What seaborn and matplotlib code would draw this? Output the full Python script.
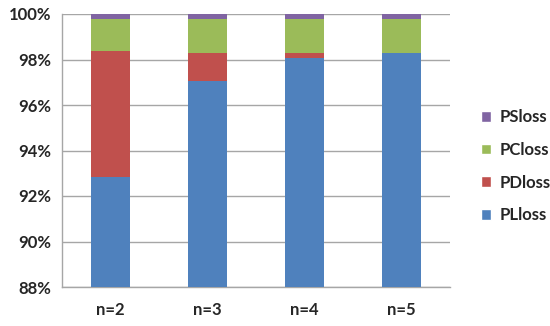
import numpy as np
import pandas as pd
import matplotlib
matplotlib.use('Agg')
import matplotlib.pyplot as plt
import seaborn as sns
from matplotlib.patches import Patch
from matplotlib.ticker import FuncFormatter

# data (percent of total)
cases = ['n=2', 'n=3', 'n=4', 'n=5']
pl_loss = [92.84, 97.05, 98.07, 98.29]
pd_loss = [5.53, 1.25, 0.20, 0.0]
pc_loss = [1.41, 1.48, 1.51, 1.49]
ps_loss = [0.22, 0.22, 0.22, 0.22]

series = ['PLloss', 'PDloss', 'PCloss', 'PSloss']
colors = ['#4F81BD', '#C0504D', '#9BBB59', '#8064A2']

sns.set_style('white')
plt.rcParams['font.family'] = ['Lato', 'DejaVu Sans']
plt.rcParams['font.weight'] = 'bold'

df = pd.DataFrame({'case': cases, 'PLloss': pl_loss, 'PDloss': pd_loss,
                   'PCloss': pc_loss, 'PSloss': ps_loss})
cum = df[series].cumsum(axis=1)

fig = plt.figure(figsize=(5.5, 3.26), dpi=100)
ax = fig.add_axes([62 / 550, 39 / 326, 388 / 550, 273 / 326])

# draw the tallest cumulative layer first so lower segments sit on top
for name, col in reversed(list(zip(series, colors))):
    sns.barplot(x=df['case'], y=cum[name], color=col, width=0.4,
                saturation=1, linewidth=0, ax=ax, zorder=3)

ax.set_ylim(88, 100)
ax.set_xlim(-0.5, 3.5)
ax.set_yticks(np.arange(88, 100.1, 2))
ax.yaxis.set_major_formatter(FuncFormatter(lambda v, p: f'{v:.0f}%'))
ax.yaxis.grid(True, color='#A6A6A6', linewidth=1, zorder=0)
ax.set_axisbelow(True)
ax.set_xlabel('')
ax.set_ylabel('')

for s in ['top', 'right']:
    ax.spines[s].set_visible(False)
for s in ['left', 'bottom']:
    ax.spines[s].set_color('#A6A6A6')
    ax.spines[s].set_linewidth(1)

ax.set_xticks(np.arange(-0.5, 3.6, 1), minor=True)
ax.tick_params(axis='x', which='major', length=0, pad=11, labelsize=12)
ax.tick_params(axis='x', which='minor', length=5, color='#A6A6A6', width=1)
ax.tick_params(axis='y', length=5, color='#A6A6A6', width=1, labelsize=12, pad=3)
for lab in ax.get_xticklabels() + ax.get_yticklabels():
    lab.set_fontweight('bold')

handles = [Patch(facecolor=c, label=n) for n, c in zip(series, colors)][::-1]
leg = fig.legend(handles=handles, loc='center left', bbox_to_anchor=(0.848, 0.49),
                 frameon=False, prop={'weight': 'bold', 'size': 12},
                 handlelength=0.6, handleheight=0.6, handletextpad=0.5,
                 labelspacing=1.0)

fig.savefig('out.png', dpi=100)
